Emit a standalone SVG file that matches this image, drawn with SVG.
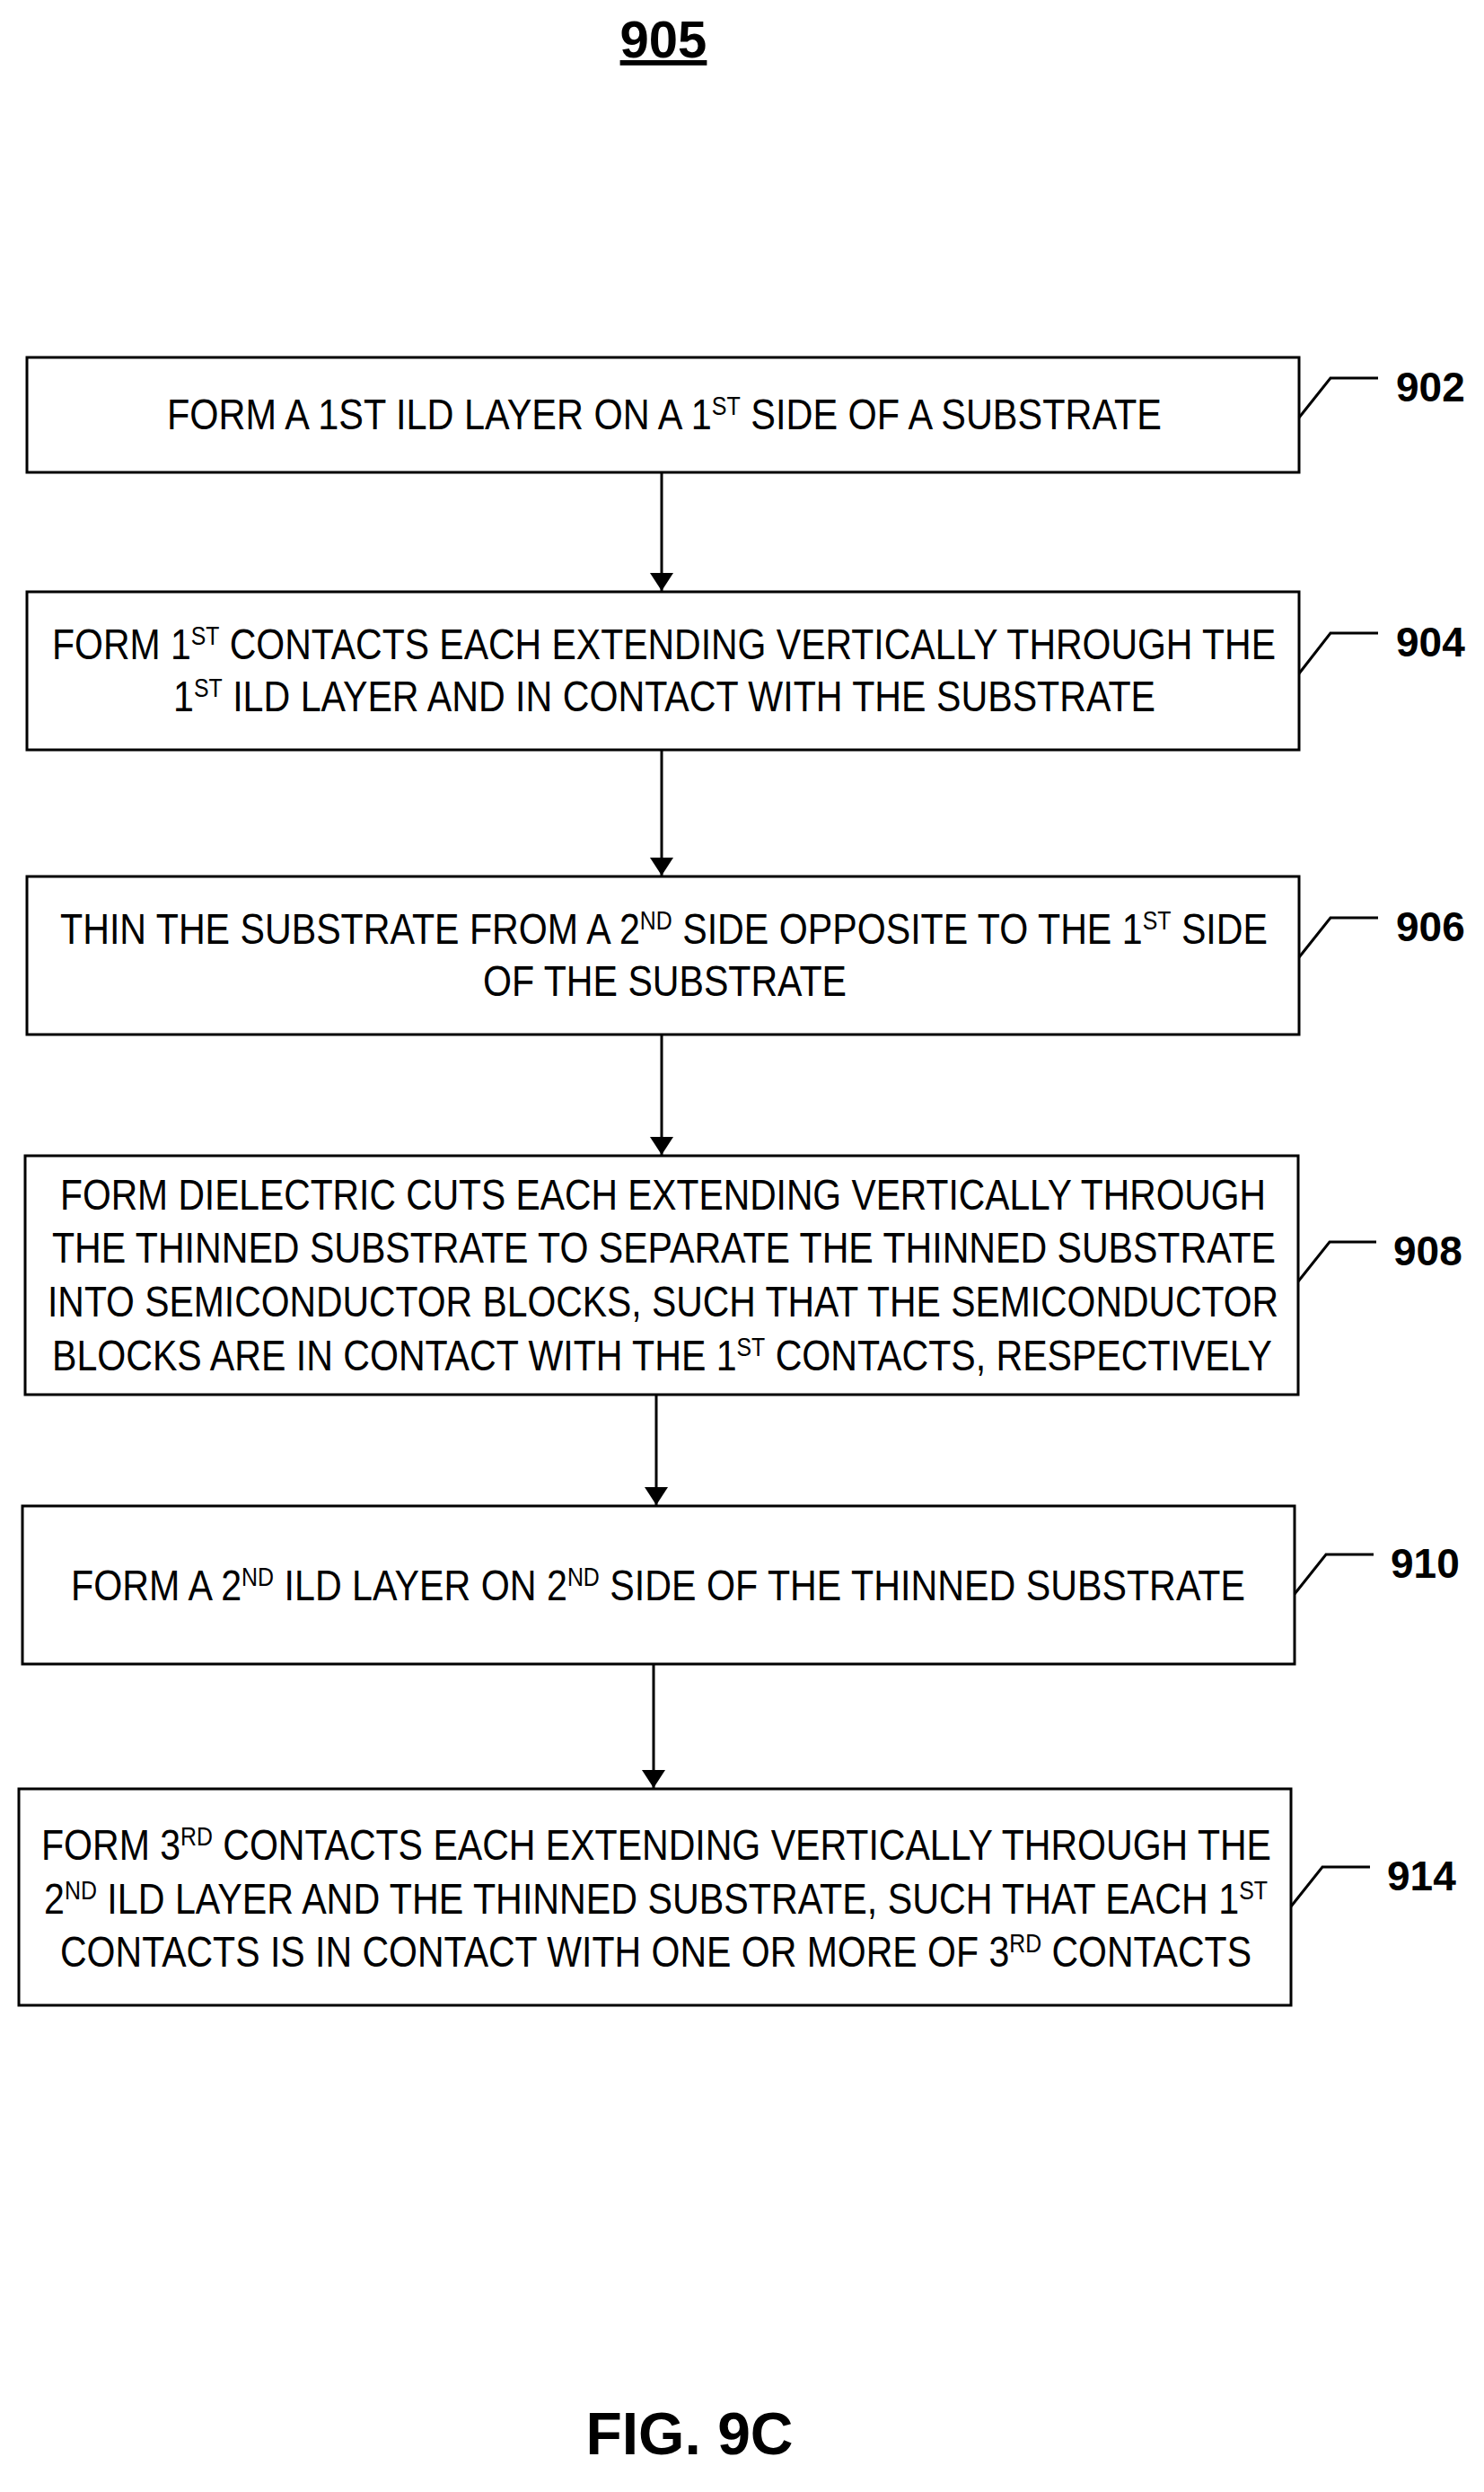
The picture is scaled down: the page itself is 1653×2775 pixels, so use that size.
<svg xmlns="http://www.w3.org/2000/svg" width="1653" height="2775" viewBox="0 0 1653 2775">
<style>
.b{fill:#fff;stroke:#000;stroke-width:3}
.t{font-family:"Liberation Sans Narrow","Liberation Sans",Arial,sans-serif;font-size:48px;fill:#000}
.s{font-size:29px}
.l{font-family:"Liberation Sans Narrow","Liberation Sans",Arial,sans-serif;font-size:46px;font-weight:bold;fill:#000}
.c{fill:none;stroke:#000;stroke-width:3}
</style>
<defs><marker id="a" markerWidth="20" markerHeight="26" refX="20" refY="13" orient="auto" markerUnits="userSpaceOnUse" viewBox="0 0 20 26"><path d="M0,0L20,13L0,26z" fill="#000"/></marker></defs>
<rect width="1653" height="2775" fill="#fff"/>
<text x="739" y="64" text-anchor="middle" class="l" style="font-size:58px" text-decoration="underline">905</text>
<g id="n902" transform="translate(0,4)"><rect class="b" x="30" y="394" width="1417" height="128"/>
<text class="t" x="186" y="474" textLength="1108" lengthAdjust="spacingAndGlyphs">FORM A 1ST ILD LAYER ON A 1<tspan class="s" dy="-16">ST</tspan><tspan dy="16"> SIDE OF A SUBSTRATE</tspan></text>
<path class="c" d="M1447,461L1482,417H1535"/><text class="l" x="1555" y="443">902</text></g>
<g id="n904" transform="translate(0,5)"><rect class="b" x="30" y="654" width="1417" height="176"/>
<text class="t" x="58" y="729" textLength="1363" lengthAdjust="spacingAndGlyphs">FORM 1<tspan class="s" dy="-16">ST</tspan><tspan dy="16"> CONTACTS EACH EXTENDING VERTICALLY THROUGH THE</tspan></text>
<text class="t" x="193" y="787" textLength="1094" lengthAdjust="spacingAndGlyphs">1<tspan class="s" dy="-16">ST</tspan><tspan dy="16"> ILD LAYER AND IN CONTACT WITH THE SUBSTRATE</tspan></text>
<path class="c" d="M1447,745L1482,700H1535"/><text class="l" x="1555" y="726">904</text></g>
<g id="n906" transform="translate(0,7)"><rect class="b" x="30" y="969" width="1417" height="176"/>
<text class="t" x="67" y="1044" textLength="1345" lengthAdjust="spacingAndGlyphs">THIN THE SUBSTRATE FROM A 2<tspan class="s" dy="-16">ND</tspan><tspan dy="16"> SIDE OPPOSITE TO THE 1</tspan><tspan class="s" dy="-16">ST</tspan><tspan dy="16"> SIDE</tspan></text>
<text class="t" x="538" y="1102" textLength="405" lengthAdjust="spacingAndGlyphs">OF THE SUBSTRATE</text>
<path class="c" d="M1447,1059L1482,1015H1535"/><text class="l" x="1555" y="1041">906</text></g>
<g id="n908" transform="translate(0,9)"><rect class="b" x="28" y="1278" width="1418" height="266"/>
<text class="t" x="67" y="1338" textLength="1343" lengthAdjust="spacingAndGlyphs">FORM DIELECTRIC CUTS EACH EXTENDING VERTICALLY THROUGH</text>
<text class="t" x="58" y="1397" textLength="1363" lengthAdjust="spacingAndGlyphs">THE THINNED SUBSTRATE TO SEPARATE THE THINNED SUBSTRATE</text>
<text class="t" x="53" y="1457" textLength="1371" lengthAdjust="spacingAndGlyphs">INTO SEMICONDUCTOR BLOCKS, SUCH THAT THE SEMICONDUCTOR</text>
<text class="t" x="58" y="1517" textLength="1359" lengthAdjust="spacingAndGlyphs">BLOCKS ARE IN CONTACT WITH THE 1<tspan class="s" dy="-16">ST</tspan><tspan dy="16"> CONTACTS, RESPECTIVELY</tspan></text>
<path class="c" d="M1446,1418L1481,1374H1533"/><text class="l" x="1552" y="1400">908</text></g>
<g id="n910" transform="translate(0,12)"><rect class="b" x="25" y="1665" width="1417" height="176"/>
<text class="t" x="79" y="1770" textLength="1308" lengthAdjust="spacingAndGlyphs">FORM A 2<tspan class="s" dy="-16">ND</tspan><tspan dy="16"> ILD LAYER ON 2</tspan><tspan class="s" dy="-16">ND</tspan><tspan dy="16"> SIDE OF THE THINNED SUBSTRATE</tspan></text>
<path class="c" d="M1442,1763L1477,1719H1530"/><text class="l" x="1549" y="1745">910</text></g>
<g id="n914" transform="translate(0,14)"><rect class="b" x="21" y="1978" width="1417" height="241"/>
<text class="t" x="46" y="2057" textLength="1370" lengthAdjust="spacingAndGlyphs">FORM 3<tspan class="s" dy="-16">RD</tspan><tspan dy="16"> CONTACTS EACH EXTENDING VERTICALLY THROUGH THE</tspan></text>
<text class="t" x="49" y="2117" textLength="1363" lengthAdjust="spacingAndGlyphs">2<tspan class="s" dy="-16">ND</tspan><tspan dy="16"> ILD LAYER AND THE THINNED SUBSTRATE, SUCH THAT EACH 1</tspan><tspan class="s" dy="-16">ST</tspan></text>
<text class="t" x="67" y="2176" textLength="1327" lengthAdjust="spacingAndGlyphs">CONTACTS IS IN CONTACT WITH ONE OR MORE OF 3<tspan class="s" dy="-16">RD</tspan><tspan dy="16"> CONTACTS</tspan></text>
<path class="c" d="M1438,2109L1473,2065H1526"/><text class="l" x="1545" y="2091">914</text></g>
<g id="connectors">
<line class="c" x1="737" y1="526" x2="737" y2="658" marker-end="url(#a)"/>
<line class="c" x1="737" y1="835" x2="737" y2="975" marker-end="url(#a)"/>
<line class="c" x1="737" y1="1152" x2="737" y2="1286" marker-end="url(#a)"/>
<line class="c" x1="731" y1="1553" x2="731" y2="1676" marker-end="url(#a)"/>
<line class="c" x1="728" y1="1853" x2="728" y2="1991" marker-end="url(#a)"/>
</g>
<text x="768" y="2733" text-anchor="middle" class="l" style="font-size:66px">FIG. 9C</text>
</svg>
